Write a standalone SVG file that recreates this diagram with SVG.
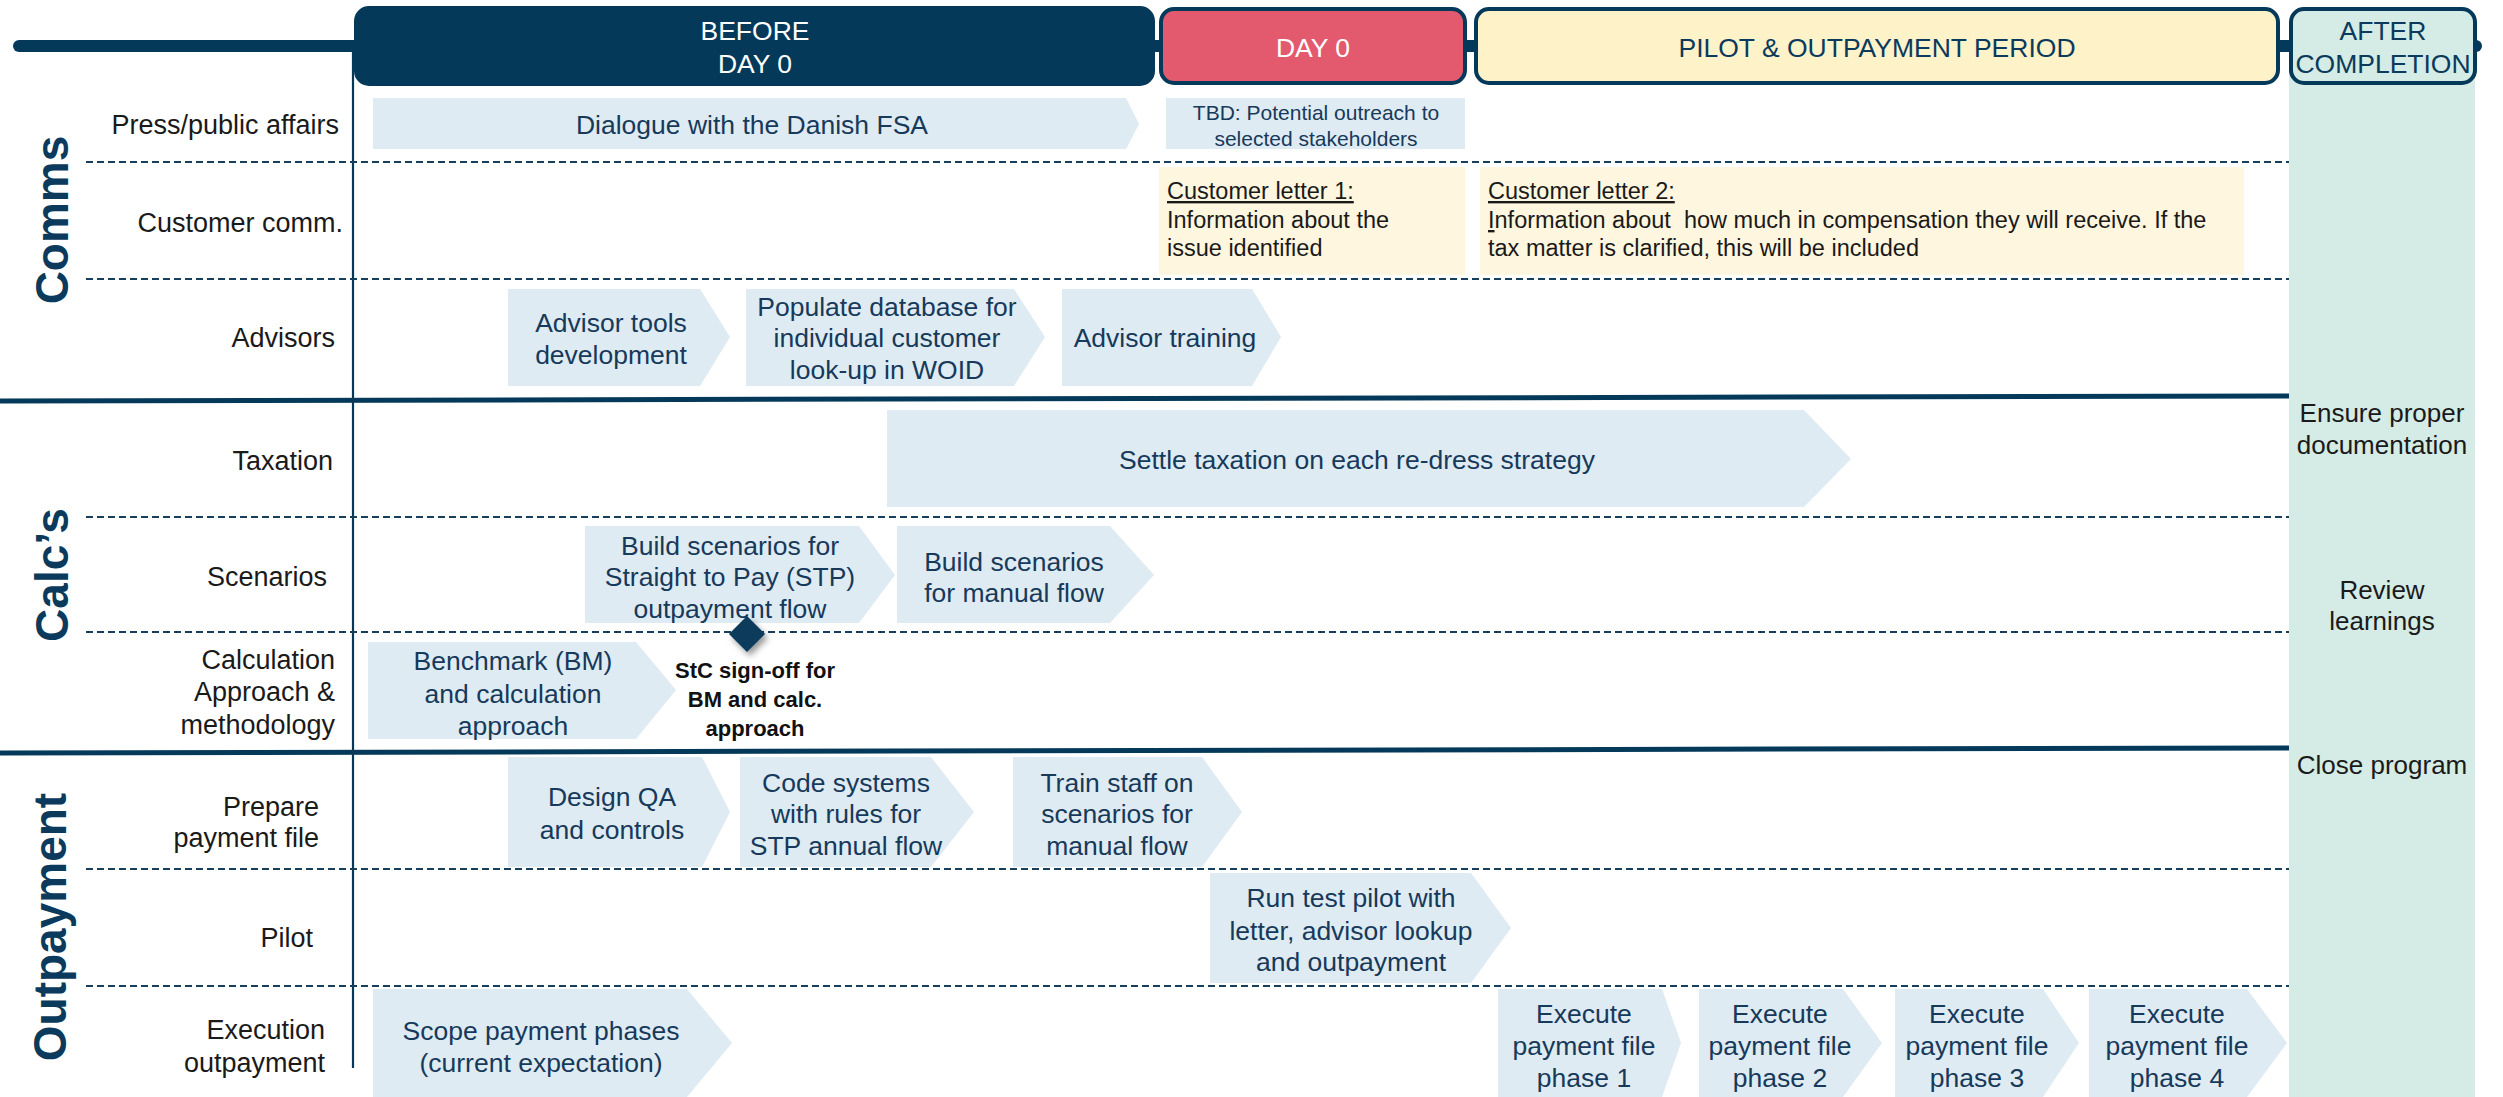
<svg xmlns="http://www.w3.org/2000/svg" width="2503" height="1097" viewBox="0 0 2503 1097">
<defs>
<style>
text{font-family:"Liberation Sans",Arial,sans-serif;}
.lbl{font-size:27px;fill:#1a1a1a;text-anchor:end;}
.bx{font-size:26.5px;fill:#17395a;text-anchor:middle;}
.hd{font-size:26.5px;text-anchor:middle;}
.grp{font-size:46px;font-weight:bold;fill:#0b3a5c;text-anchor:middle;}
.chev{fill:#deebf2;}
.dash{stroke:#163f5e;stroke-width:2.2;stroke-dasharray:7 4;fill:none;}
.thick{stroke:#04395a;stroke-width:5;fill:none;}
.letter{fill:#fef6de;}
.lt{font-size:23.5px;fill:#1a1a1a;}
.tbd{font-size:21px;fill:#17395a;text-anchor:middle;}
.aft{font-size:26px;fill:#1a1a1a;text-anchor:middle;}
.stc{font-size:22px;font-weight:bold;fill:#111;text-anchor:middle;}
</style>
<filter id="sh" x="-50%" y="-50%" width="200%" height="200%">
<feDropShadow dx="3" dy="4" stdDeviation="3" flood-color="#000" flood-opacity="0.4"/>
</filter>
</defs>
<rect width="2503" height="1097" fill="#fff"/>

<!-- after column background -->
<rect x="2289" y="40" width="186" height="1057" fill="#d5ebe5"/>

<!-- structure / connectors -->
<g id="connectors">
<line x1="19" y1="46" x2="2476" y2="46" stroke="#04395a" stroke-width="12" stroke-linecap="round"/>
<line x1="353" y1="46" x2="353" y2="1068" stroke="#04395a" stroke-width="2.2"/>
<line class="dash" x1="86" y1="162" x2="2289" y2="162"/>
<line class="dash" x1="86" y1="279" x2="2289" y2="279"/>
<line class="thick" x1="0" y1="401" x2="2289" y2="396"/>
<line class="dash" x1="86" y1="517" x2="2289" y2="517"/>
<line class="dash" x1="86" y1="632" x2="2289" y2="632"/>
<line class="thick" x1="0" y1="753" x2="2289" y2="748"/>
<line class="dash" x1="86" y1="869" x2="2289" y2="869"/>
<line class="dash" x1="86" y1="986" x2="2289" y2="986"/>
</g>

<!-- header -->
<g id="hdr-before">
<rect x="356" y="8" width="797" height="76" rx="13" fill="#04395a" stroke="#04395a" stroke-width="4"/>
<text class="hd" x="755" y="40" fill="#fff">BEFORE</text>
<text class="hd" x="755" y="73" fill="#fff">DAY 0</text>
</g>
<g id="hdr-day0">
<rect x="1161" y="9" width="304" height="74" rx="13" fill="#e35a6f" stroke="#04395a" stroke-width="4"/>
<text class="hd" x="1313" y="57" fill="#fff">DAY 0</text>
</g>
<g id="hdr-pilot">
<rect x="1476" y="9" width="802" height="74" rx="13" fill="#fef2c9" stroke="#04395a" stroke-width="4"/>
<text class="hd" x="1877" y="57" fill="#0b3a5c">PILOT &amp; OUTPAYMENT PERIOD</text>
</g>
<g id="hdr-after">
<rect x="2291" y="9" width="184" height="74" rx="13" fill="#d5ebe5" stroke="#04395a" stroke-width="4"/>
<text class="hd" x="2383" y="40" fill="#0b3a5c">AFTER</text>
<text class="hd" x="2383" y="73" fill="#0b3a5c">COMPLETION</text>
</g>

<!-- group labels -->
<g id="grp-comms"><text class="grp" transform="translate(68,220) rotate(-90)">Comms</text></g>
<g id="grp-calcs"><text class="grp" transform="translate(68,575) rotate(-90)">Calc’s</text></g>
<g id="grp-outpayment"><text class="grp" transform="translate(66,927) rotate(-90)">Outpayment</text></g>

<!-- row labels -->
<g id="row-labels">
<text class="lbl" x="339" y="134">Press/public affairs</text>
<text class="lbl" x="343" y="232">Customer comm.</text>
<text class="lbl" x="335" y="347">Advisors</text>
<text class="lbl" x="333" y="470">Taxation</text>
<text class="lbl" x="327" y="586">Scenarios</text>
<text class="lbl" x="335" y="669">Calculation</text>
<text class="lbl" x="335" y="701">Approach &amp;</text>
<text class="lbl" x="335" y="734">methodology</text>
<text class="lbl" x="319" y="816">Prepare</text>
<text class="lbl" x="319" y="847">payment file</text>
<text class="lbl" x="313" y="947">Pilot</text>
<text class="lbl" x="325" y="1039">Execution</text>
<text class="lbl" x="325" y="1072">outpayment</text>
</g>

<!-- Press row -->
<g id="n-dialogue">
<path class="chev" d="M373,98 H1126 L1139,124 L1126,149 H373 Z"/>
<text class="bx" x="752" y="134">Dialogue with the Danish FSA</text>
</g>
<g id="n-tbd">
<rect class="chev" x="1166" y="98" width="299" height="51"/>
<text class="tbd" x="1316" y="120">TBD: Potential outreach to</text>
<text class="tbd" x="1316" y="146">selected stakeholders</text>
</g>

<!-- Customer comm row -->
<g id="n-letter1">
<rect class="letter" x="1159" y="167" width="306" height="108"/>
<text class="lt" x="1167" y="199" text-decoration="underline">Customer letter 1:</text>
<text class="lt" x="1167" y="228">Information about the</text>
<text class="lt" x="1167" y="256">issue identified</text>
</g>
<g id="n-letter2">
<rect class="letter" x="1480" y="167" width="764" height="108"/>
<text class="lt" x="1488" y="199" text-decoration="underline">Customer letter 2:</text>
<text class="lt" x="1488" y="228" style="white-space:pre"><tspan text-decoration="underline">I</tspan>nformation about  how much in compensation they will receive. If the</text>
<text class="lt" x="1488" y="256">tax matter is clarified, this will be included</text>
</g>

<!-- Advisors row -->
<g id="n-advtools">
<path class="chev" d="M508,289 H700 L730,337 L700,386 H508 Z"/>
<text class="bx" x="611" y="332">Advisor tools</text>
<text class="bx" x="611" y="364">development</text>
</g>
<g id="n-populate">
<path class="chev" d="M746,289 H1014 L1045,337 L1014,386 H746 Z"/>
<text class="bx" x="887" y="316">Populate database for</text>
<text class="bx" x="887" y="347">individual customer</text>
<text class="bx" x="887" y="379">look-up in WOID</text>
</g>
<g id="n-advtraining">
<path class="chev" d="M1062,289 H1252 L1281,337 L1252,386 H1062 Z"/>
<text class="bx" x="1165" y="347">Advisor training</text>
</g>

<!-- Taxation row -->
<g id="n-settle">
<path class="chev" d="M887,410 H1804 L1851,459 L1804,507 H887 Z"/>
<text class="bx" x="1357" y="469">Settle taxation on each re-dress strategy</text>
</g>

<!-- Scenarios row -->
<g id="n-stp">
<path class="chev" d="M585,526 H859 L895,575 L859,623 H585 Z"/>
<text class="bx" x="730" y="555">Build scenarios for</text>
<text class="bx" x="730" y="586">Straight to Pay (STP)</text>
<text class="bx" x="730" y="618">outpayment flow</text>
</g>
<g id="n-manual">
<path class="chev" d="M897,526 H1110 L1154,575 L1110,623 H897 Z"/>
<text class="bx" x="1014" y="571">Build scenarios</text>
<text class="bx" x="1014" y="602">for manual flow</text>
</g>

<!-- Calculation row -->
<g id="n-benchmark">
<path class="chev" d="M368,642 H636 L676,690 L636,739 H368 Z"/>
<text class="bx" x="513" y="670">Benchmark (BM)</text>
<text class="bx" x="513" y="703">and calculation</text>
<text class="bx" x="513" y="735">approach</text>
</g>
<g id="n-signoff">
<path d="M747,616 L765,634 L747,652 L729,634 Z" fill="#0b3a5c" filter="url(#sh)"/>
<text class="stc" x="755" y="678">StC sign-off for</text>
<text class="stc" x="755" y="707">BM and calc.</text>
<text class="stc" x="755" y="736">approach</text>
</g>

<!-- Prepare payment file row -->
<g id="n-designqa">
<path class="chev" d="M508,757 H702 L730,812 L702,867 H508 Z"/>
<text class="bx" x="612" y="806">Design QA</text>
<text class="bx" x="612" y="839">and controls</text>
</g>
<g id="n-code">
<path class="chev" d="M740,757 H931 L974,812 L931,867 H740 Z"/>
<text class="bx" x="846" y="792">Code systems</text>
<text class="bx" x="846" y="823">with rules for</text>
<text class="bx" x="846" y="855">STP annual flow</text>
</g>
<g id="n-train">
<path class="chev" d="M1013,757 H1202 L1242,812 L1202,867 H1013 Z"/>
<text class="bx" x="1117" y="792">Train staff on</text>
<text class="bx" x="1117" y="823">scenarios for</text>
<text class="bx" x="1117" y="855">manual flow</text>
</g>

<!-- Pilot row -->
<g id="n-pilot">
<path class="chev" d="M1210,873 H1471 L1511,928 L1471,983 H1210 Z"/>
<text class="bx" x="1351" y="907">Run test pilot with</text>
<text class="bx" x="1351" y="940">letter, advisor lookup</text>
<text class="bx" x="1351" y="971">and outpayment</text>
</g>

<!-- Execution row -->
<g id="n-scope">
<path class="chev" d="M373,989 H687 L732,1043 L687,1097 H373 Z"/>
<text class="bx" x="541" y="1040">Scope payment phases</text>
<text class="bx" x="541" y="1072">(current expectation)</text>
</g>
<g id="n-phase1">
<path class="chev" d="M1498,989 H1662 L1681,1043 L1662,1097 H1498 Z"/>
<text class="bx" x="1584" y="1023">Execute</text>
<text class="bx" x="1584" y="1055">payment file</text>
<text class="bx" x="1584" y="1087">phase 1</text>
</g>
<g id="n-phase2">
<path class="chev" d="M1699,989 H1843 L1882,1043 L1843,1097 H1699 Z"/>
<text class="bx" x="1780" y="1023">Execute</text>
<text class="bx" x="1780" y="1055">payment file</text>
<text class="bx" x="1780" y="1087">phase 2</text>
</g>
<g id="n-phase3">
<path class="chev" d="M1895,989 H2043 L2079,1043 L2043,1097 H1895 Z"/>
<text class="bx" x="1977" y="1023">Execute</text>
<text class="bx" x="1977" y="1055">payment file</text>
<text class="bx" x="1977" y="1087">phase 3</text>
</g>
<g id="n-phase4">
<path class="chev" d="M2089,989 H2247 L2287,1043 L2247,1097 H2089 Z"/>
<text class="bx" x="2177" y="1023">Execute</text>
<text class="bx" x="2177" y="1055">payment file</text>
<text class="bx" x="2177" y="1087">phase 4</text>
</g>

<!-- After completion column -->
<g id="n-ensure">
<text class="aft" x="2382" y="422">Ensure proper</text>
<text class="aft" x="2382" y="454">documentation</text>
</g>
<g id="n-review">
<text class="aft" x="2382" y="599">Review</text>
<text class="aft" x="2382" y="630">learnings</text>
</g>
<g id="n-close">
<text class="aft" x="2382" y="774">Close program</text>
</g>
</svg>
